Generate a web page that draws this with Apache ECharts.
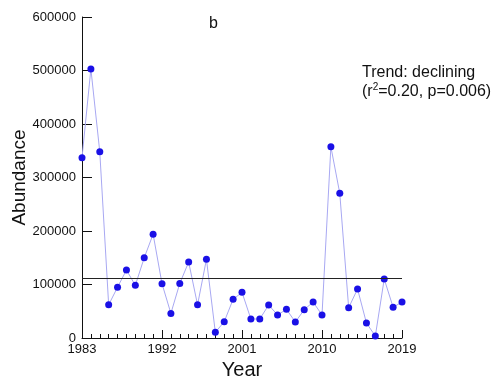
<!DOCTYPE html>
<html>
<head>
<meta charset="utf-8">
<script src="https://cdn.jsdelivr.net/npm/echarts@6/dist/echarts.min.js"></script>
<style>html,body{margin:0;padding:0;background:#fff}#c{width:500px;height:380px}</style>
</head>
<body>
<div id="c"></div>
<script>
const years = [];
for (let y = 1983; y <= 2019; y++) years.push(String(y));
const abundance = [337000, 503000, 348000, 62000, 95000, 127000, 98500, 150000, 194000, 101500,
  46000, 102000, 142000, 62000, 147000, 10600, 30500, 72300, 85400, 35500,
  35500, 61700, 43000, 53600, 29900, 52900, 67300, 43000, 357500, 270400,
  56600, 91600, 28000, 3700, 110300, 57400, 67300];
const meanLine = 112000;
const yTicks = [0, 100000, 200000, 300000, 400000, 500000, 600000];

const font = '"Liberation Sans", Arial, sans-serif';
const chart = echarts.init(document.getElementById('c'), null, {renderer: 'canvas'});
chart.setOption({
  animation: false,
  backgroundColor: '#fff',
  grid: {left: 82, right: 98, top: 17, bottom: 42, containLabel: false, outerBoundsMode: 'none'},
  xAxis: [{
    type: 'category', data: years, boundaryGap: false,
    axisLine: {lineStyle: {color: '#111', width: 1}},
    axisTick: {inside: true, length: 4, interval: 0, lineStyle: {color: '#111'}},
    axisLabel: {interval: 8, color: '#111', fontFamily: font, fontSize: 13, margin: 5},
    splitLine: {show: false},
    name: 'Year', nameLocation: 'middle', nameGap: 22, nameMoveOverlap: false,
    nameTextStyle: {fontFamily: font, fontSize: 20, color: '#111'}
  }, {
    type: 'category', data: years, boundaryGap: false, position: 'bottom',
    axisLine: {show: false},
    axisTick: {inside: true, length: 8, interval: 8, lineStyle: {color: '#111'}},
    axisLabel: {show: false}, splitLine: {show: false}
  }],
  yAxis: {
    type: 'value', min: yTicks[0], max: yTicks[yTicks.length - 1], interval: 100000,
    axisLine: {show: true, lineStyle: {color: '#111', width: 1}},
    axisTick: {show: true, inside: true, length: 10, lineStyle: {color: '#111'}},
    axisLabel: {color: '#111', fontFamily: font, fontSize: 13, margin: 6, formatter: v => String(v)},
    splitLine: {show: false},
    name: 'Abundance', nameLocation: 'middle', nameGap: 53, nameMoveOverlap: false,
    nameTextStyle: {fontFamily: font, fontSize: 19, color: '#111'}
  },
  series: [{
    type: 'line', data: abundance, xAxisIndex: 0,
    symbol: 'circle', symbolSize: 7, showAllSymbol: true,
    lineStyle: {color: '#a8a8f2', width: 1},
    itemStyle: {color: '#1a10e6'},
    markLine: {
      silent: true, symbol: 'none', label: {show: false},
      lineStyle: {color: '#222', width: 1, type: 'solid'},
      data: [{yAxis: meanLine}]
    }
  }],
  graphic: [
    {type: 'text', left: 209, top: 16, style: {text: 'b', font: '16px ' + font, fill: '#111'}},
    {type: 'text', left: 362, top: 63, style: {
      text: 'Trend: declining\n({i|r}{s|2}{i|=0.20, p=0.006)}',
      font: '16px ' + font, fill: '#111', lineHeight: 19,
      rich: {i: {fontSize: 16, fontFamily: font, fill: '#111'}, s: {fontSize: 10, fontFamily: font, fill: '#111', verticalAlign: 'top', padding: [0, 0, 6, 0]}}
    }}
  ]
});
</script>
</body>
</html>
